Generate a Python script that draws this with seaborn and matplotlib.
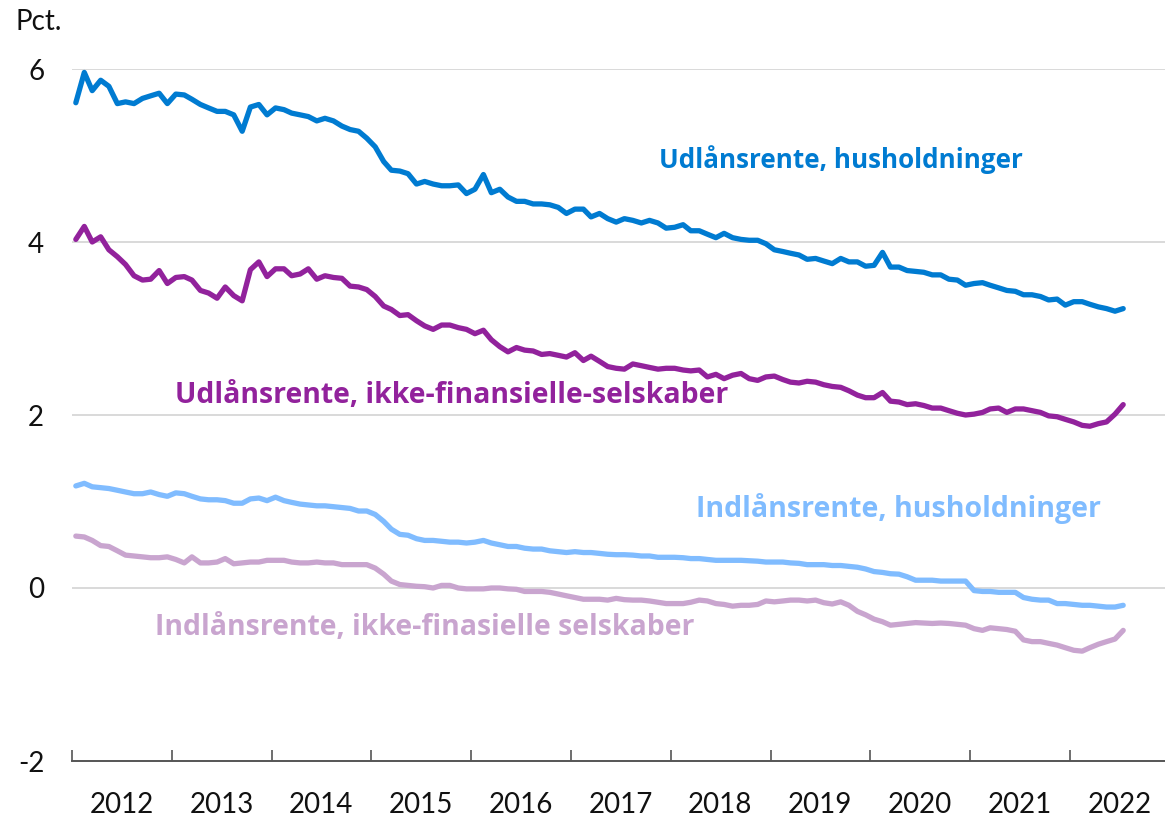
import numpy as np
import pandas as pd
import matplotlib
matplotlib.use("Agg")
import matplotlib.pyplot as plt
import matplotlib.dates as mdates
import seaborn as sns

# ---- data (monthly, Jan 2012 - Jul 2022) ----
start_month = "2012-01-01"
n_months = 127

udlaan_hush = [5.61, 5.96, 5.75, 5.87, 5.80, 5.60, 5.62, 5.60, 5.66, 5.69, 5.72, 5.60, 5.71, 5.70, 5.65, 5.59,
               5.55, 5.51, 5.51, 5.47, 5.28, 5.56, 5.59, 5.47, 5.55, 5.53, 5.49, 5.47, 5.45, 5.40, 5.43, 5.40,
               5.34, 5.30, 5.28, 5.20, 5.10, 4.93, 4.83, 4.82, 4.79, 4.67, 4.70, 4.67, 4.65, 4.65, 4.66, 4.56,
               4.61, 4.78, 4.57, 4.61, 4.52, 4.47, 4.47, 4.44, 4.44, 4.43, 4.40, 4.33, 4.38, 4.38, 4.29, 4.33,
               4.27, 4.23, 4.27, 4.25, 4.22, 4.25, 4.22, 4.16, 4.17, 4.20, 4.13, 4.13, 4.09, 4.05, 4.10, 4.05,
               4.03, 4.02, 4.02, 3.98, 3.91, 3.89, 3.87, 3.85, 3.80, 3.81, 3.78, 3.75, 3.81, 3.77, 3.77, 3.72,
               3.73, 3.88, 3.71, 3.71, 3.67, 3.66, 3.65, 3.62, 3.62, 3.57, 3.56, 3.50, 3.52, 3.53, 3.50, 3.47,
               3.44, 3.43, 3.39, 3.39, 3.37, 3.33, 3.34, 3.27, 3.31, 3.31, 3.28, 3.25, 3.23, 3.20, 3.23]

udlaan_virk = [4.03, 4.18, 4.00, 4.06, 3.91, 3.83, 3.74, 3.61, 3.56, 3.57, 3.67, 3.52, 3.59, 3.60, 3.56, 3.44,
               3.41, 3.35, 3.48, 3.38, 3.32, 3.68, 3.77, 3.60, 3.69, 3.69, 3.61, 3.63, 3.69, 3.57, 3.61, 3.59,
               3.58, 3.49, 3.48, 3.45, 3.37, 3.26, 3.22, 3.15, 3.16, 3.09, 3.03, 2.99, 3.04, 3.04, 3.01, 2.99,
               2.94, 2.98, 2.87, 2.79, 2.73, 2.78, 2.75, 2.74, 2.70, 2.71, 2.69, 2.67, 2.72, 2.63, 2.68, 2.62,
               2.56, 2.54, 2.53, 2.59, 2.57, 2.55, 2.53, 2.54, 2.54, 2.52, 2.51, 2.52, 2.44, 2.47, 2.42, 2.46,
               2.48, 2.42, 2.40, 2.44, 2.45, 2.41, 2.38, 2.37, 2.39, 2.38, 2.35, 2.33, 2.32, 2.28, 2.23, 2.20,
               2.20, 2.26, 2.16, 2.15, 2.12, 2.13, 2.11, 2.08, 2.08, 2.05, 2.02, 2.00, 2.01, 2.03, 2.07, 2.08,
               2.03, 2.07, 2.07, 2.05, 2.03, 1.99, 1.98, 1.95, 1.92, 1.88, 1.87, 1.90, 1.92, 2.01, 2.12]

indlaan_hush = [1.18, 1.21, 1.17, 1.16, 1.15, 1.13, 1.11, 1.09, 1.09, 1.11, 1.08, 1.06, 1.10, 1.09, 1.06, 1.03,
                1.02, 1.02, 1.01, 0.98, 0.98, 1.03, 1.04, 1.01, 1.05, 1.01, 0.99, 0.97, 0.96, 0.95, 0.95, 0.94,
                0.93, 0.92, 0.89, 0.89, 0.85, 0.77, 0.68, 0.62, 0.61, 0.57, 0.55, 0.55, 0.54, 0.53, 0.53, 0.52,
                0.53, 0.55, 0.52, 0.50, 0.48, 0.48, 0.46, 0.45, 0.45, 0.43, 0.42, 0.41, 0.42, 0.41, 0.41, 0.40,
                0.39, 0.385, 0.385, 0.38, 0.37, 0.37, 0.355, 0.355, 0.355, 0.35, 0.34, 0.34, 0.33, 0.32, 0.32, 0.32,
                0.32, 0.315, 0.31, 0.30, 0.30, 0.30, 0.29, 0.285, 0.27, 0.27, 0.27, 0.26, 0.26, 0.25, 0.24, 0.22,
                0.19, 0.18, 0.165, 0.16, 0.13, 0.09, 0.09, 0.09, 0.08, 0.08, 0.08, 0.08, -0.03, -0.04, -0.04, -0.05,
                -0.05, -0.05, -0.11, -0.13, -0.14, -0.14, -0.18, -0.18, -0.19, -0.20, -0.20, -0.21, -0.22, -0.22, -0.20]

indlaan_virk = [0.60, 0.59, 0.55, 0.49, 0.48, 0.43, 0.38, 0.37, 0.36, 0.35, 0.35, 0.36, 0.33, 0.29, 0.36, 0.29,
                0.29, 0.30, 0.34, 0.28, 0.29, 0.30, 0.30, 0.32, 0.32, 0.32, 0.30, 0.29, 0.29, 0.30, 0.29, 0.29,
                0.27, 0.27, 0.27, 0.27, 0.23, 0.16, 0.08, 0.04, 0.03, 0.02, 0.015, 0.00, 0.03, 0.03, 0.00, -0.01,
                -0.01, -0.01, 0.00, 0.00, -0.01, -0.015, -0.04, -0.04, -0.04, -0.05, -0.07, -0.09, -0.11, -0.13, -0.13, -0.13,
                -0.14, -0.12, -0.135, -0.14, -0.14, -0.15, -0.165, -0.18, -0.18, -0.18, -0.165, -0.14, -0.15, -0.18, -0.19, -0.21,
                -0.20, -0.20, -0.19, -0.15, -0.16, -0.15, -0.14, -0.14, -0.15, -0.14, -0.17, -0.185, -0.16, -0.20, -0.27, -0.31,
                -0.36, -0.39, -0.43, -0.42, -0.41, -0.40, -0.405, -0.41, -0.405, -0.41, -0.42, -0.43, -0.47, -0.49, -0.46, -0.47,
                -0.48, -0.50, -0.60, -0.62, -0.62, -0.64, -0.66, -0.69, -0.72, -0.73, -0.69, -0.65, -0.62, -0.59, -0.49]

series_names = ["Udlånsrente, husholdninger",
                "Udlånsrente, ikke-finansielle-selskaber",
                "Indlånsrente, husholdninger",
                "Indlånsrente, ikke-finasielle selskaber"]
series_colors = ["#007BD1", "#92229C", "#80BCFF", "#C9A5CF"]

y_ticks = [-2, 0, 2, 4, 6]

# ---- build frame ----
dates = pd.date_range(start_month, periods=n_months, freq="MS") + pd.Timedelta(days=14)
frames = []
for name, vals in zip(series_names, [udlaan_hush, udlaan_virk, indlaan_hush, indlaan_virk]):
    frames.append(pd.DataFrame({"date": dates, "value": vals, "series": name}))
df = pd.concat(frames, ignore_index=True)

# ---- style ----
sns.set_theme(style="white")
plt.rcParams["font.family"] = ["Lato", "DejaVu Sans"]
plt.rcParams["axes.unicode_minus"] = False

W, H = 1165, 817
fig = plt.figure(figsize=(W / 100, H / 100), dpi=100)
ax = fig.add_axes([72 / W, (H - 761) / H, (W - 72) / W, (761 - 69) / H])

sns.lineplot(data=df, x="date", y="value", hue="series", hue_order=series_names,
             palette=dict(zip(series_names, series_colors)), linewidth=3.8,
             legend=False, ax=ax, clip_on=False)

ax.set_ylim(-2, 6)
ax.set_xlim(pd.Timestamp("2012-01-01"), pd.Timestamp("2022-12-15"))

for yv in y_ticks[1:]:
    ax.axhline(yv, color="#D3D3D3", lw=1.2, zorder=0)

ax.set_yticks(y_ticks)
ax.set_yticklabels([str(v) for v in y_ticks])
ax.tick_params(axis="y", length=0, pad=20, labelsize=20, labelcolor="#111111")

ax.xaxis.set_major_locator(mdates.YearLocator())
ax.xaxis.set_major_formatter(plt.NullFormatter())
ax.xaxis.set_minor_locator(mdates.MonthLocator(bymonth=7, bymonthday=1))
ax.xaxis.set_minor_formatter(mdates.DateFormatter("%Y"))
ax.tick_params(axis="x", which="major", direction="in", length=8, width=1.2, color="#555555", bottom=True)
ax.tick_params(axis="x", which="minor", length=0, pad=22, labelsize=20, labelcolor="#111111", bottom=True)

for s in ["top", "right", "left"]:
    ax.spines[s].set_visible(False)
ax.spines["bottom"].set_color("#555555")
ax.spines["bottom"].set_linewidth(1.4)

ax.set_xlabel("")
ax.set_ylabel("")

# labels for series
label_pos = [(pd.Timestamp("2017-11-20"), 4.95),
             (pd.Timestamp("2013-01-12"), 2.23),
             (pd.Timestamp("2018-04-05"), 0.92),
             (pd.Timestamp("2012-10-30"), -0.46)]
label_sizes = [18.7, 20.4, 20.5, 20.4]
for name, col, (xp, yp), fs in zip(series_names, series_colors, label_pos, label_sizes):
    ax.text(xp, yp, name, color=col, fontsize=fs, fontweight="bold", ha="left", va="center",
            family=["Open Sans", "DejaVu Sans"])

fig.text(15 / W, 1 - 22 / H, "Pct.", fontsize=20, color="#111111", ha="left", va="center")

fig.savefig("out.png", dpi=100)
